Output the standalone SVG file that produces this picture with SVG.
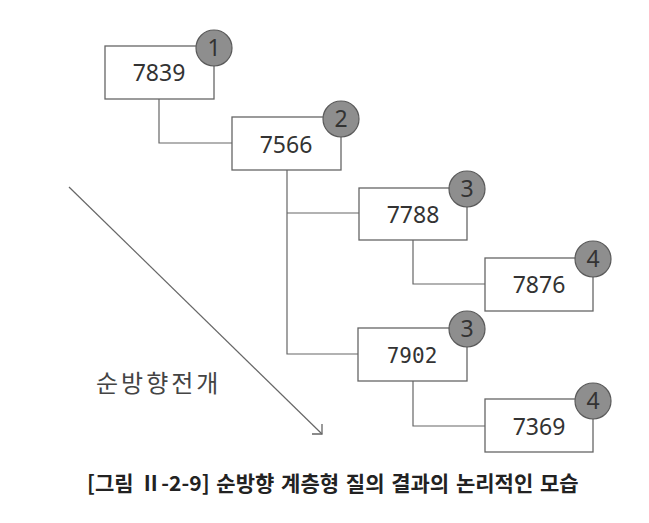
<svg xmlns="http://www.w3.org/2000/svg" width="649" height="523" viewBox="0 0 649 523">
<defs>
<style>
.box{fill:#fff;stroke:#666;stroke-width:1.3}
.badge{fill:#8e8e8e;stroke:#5a5a5a;stroke-width:1.2}
.num{font-family:"Noto Sans","Open Sans","DejaVu Sans",sans-serif;font-size:23px;fill:#333;text-anchor:middle}
.mono{font-family:"DejaVu Sans Mono","Liberation Mono",monospace;font-size:21px;fill:#333;text-anchor:middle}
.bn{font-family:"Noto Sans","Open Sans",sans-serif;font-size:23px;fill:#333;text-anchor:middle}
.conn{fill:none;stroke:#666;stroke-width:1.2}
.lbl{font-family:"Noto Sans CJK KR","Noto Sans",sans-serif;font-size:24px;fill:#444}
.cap{font-family:"Noto Sans CJK KR","Noto Sans",sans-serif;font-size:21px;font-weight:bold;fill:#222;word-spacing:2px}
</style>
<marker id="arr" viewBox="0 0 12 12" refX="11" refY="11" markerWidth="12" markerHeight="12" markerUnits="userSpaceOnUse" orient="0">
<path d="M1 11 H11 V1" fill="none" stroke="#666" stroke-width="1.3"/>
</marker>
</defs>
<rect width="649" height="523" fill="#fff"/>
<g id="connectors">
<path class="conn" d="M159 99 V143 H232"/>
<path class="conn" d="M287 170 V354 H358"/>
<path class="conn" d="M287 213 H359"/>
<path class="conn" d="M413 240 V284 H485"/>
<path class="conn" d="M413 381 V426 H485"/>
<line class="conn" x1="69" y1="187" x2="322" y2="434" marker-end="url(#arr)"/>
</g>
<g id="n1">
<rect class="box" x="105" y="46" width="109" height="53"/>
<text class="num" x="159" y="81">7839</text>
<circle class="badge" cx="214" cy="48" r="18"/>
<text class="bn" x="214" y="56">1</text>
</g>
<g id="n2">
<rect class="box" x="232" y="117" width="109" height="53"/>
<text class="num" x="286" y="153">7566</text>
<circle class="badge" cx="341" cy="119" r="18"/>
<text class="bn" x="341" y="127">2</text>
</g>
<g id="n3">
<rect class="box" x="359" y="188" width="108" height="52"/>
<text class="num" x="413" y="223">7788</text>
<circle class="badge" cx="467" cy="189" r="18"/>
<text class="bn" x="467" y="197">3</text>
</g>
<g id="n4">
<rect class="box" x="485" y="258" width="108" height="53"/>
<text class="num" x="539" y="293">7876</text>
<circle class="badge" cx="593" cy="259" r="18"/>
<text class="bn" x="593" y="267">4</text>
</g>
<g id="n5">
<rect class="box" x="358" y="328" width="109" height="53"/>
<text class="mono" x="412" y="363">7902</text>
<circle class="badge" cx="467" cy="329" r="18"/>
<text class="bn" x="467" y="337">3</text>
</g>
<g id="n6">
<rect class="box" x="485" y="399" width="108" height="53"/>
<text class="num" x="539" y="435">7369</text>
<circle class="badge" cx="593" cy="401" r="18"/>
<text class="bn" x="593" y="409">4</text>
</g>
<text class="lbl" x="96" y="392" letter-spacing="3">순방향전개</text>
<text class="cap" x="87" y="491">[그림 Ⅱ-2-9] 순방향 계층형 질의 결과의 논리적인 모습</text>
</svg>
